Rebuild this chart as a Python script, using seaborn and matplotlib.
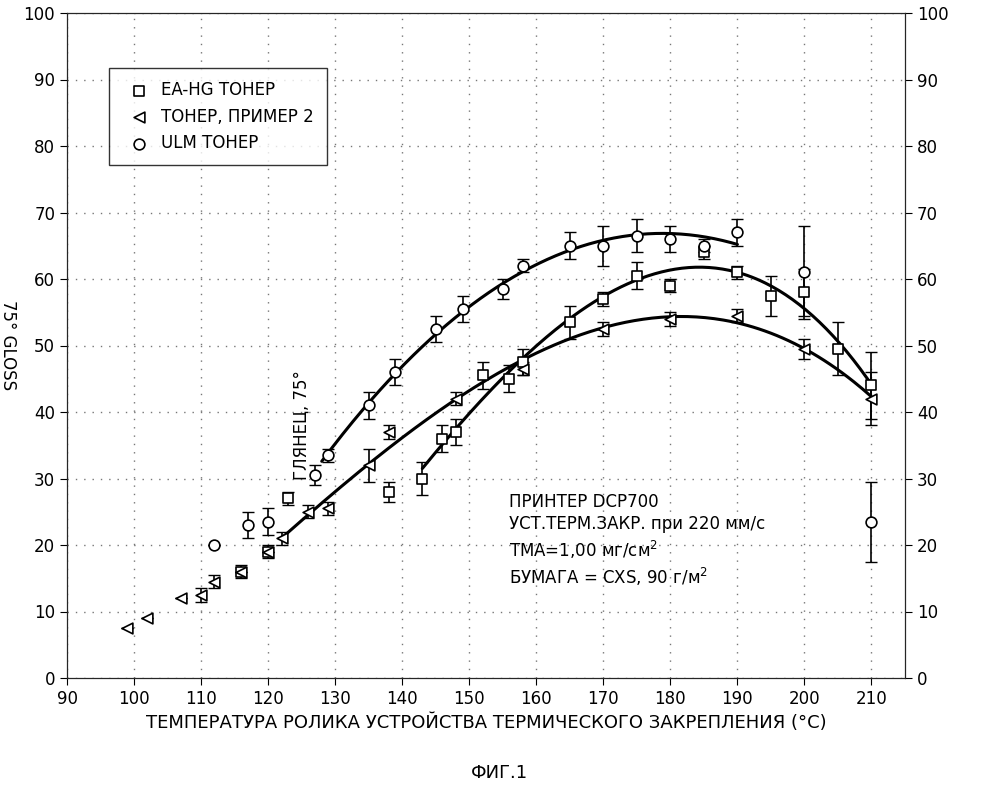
import numpy as np
import pandas as pd
import seaborn as sns
import matplotlib.pyplot as plt

# EA-HG toner (squares)
sq_x = [116, 120, 123, 138, 143, 146, 148, 152, 156, 158, 165, 170, 175, 180, 185, 190, 195, 200, 205, 210]
sq_y = [16, 19, 27, 28, 30, 36, 37, 45.5, 45, 47.5, 53.5, 57, 60.5, 59, 64, 61, 57.5, 58, 49.5, 44]
sq_e = [0, 0, 1, 1.5, 2.5, 2, 2, 2, 2, 2, 2.5, 1, 2, 1, 1, 1, 3, 3.5, 4, 5]
# example 2 toner (triangles)
tr_x = [99, 102, 107, 110, 112, 116, 120, 122, 126, 129, 135, 138, 148, 158, 170, 180, 190, 200, 210]
tr_y = [7.5, 9, 12, 12.5, 14.5, 16, 19, 21, 25, 25.5, 32, 37, 42, 46.5, 52.5, 54, 54.5, 49.5, 42]
tr_e = [0, 0, 0, 1, 1, 1, 1, 1, 1, 1, 2.5, 1, 1, 1, 1, 1, 1, 1.5, 4]
# ULM toner (circles)
ci_x = [112, 117, 120, 127, 129, 135, 139, 145, 149, 155, 158, 165, 170, 175, 180, 185, 190, 200, 210]
ci_y = [20, 23, 23.5, 30.5, 33.5, 41, 46, 52.5, 55.5, 58.5, 62, 65, 65, 66.5, 66, 65, 67, 61, 23.5]
ci_e = [0, 2, 2, 1.5, 1, 2, 2, 2, 2, 1.5, 1, 2, 3, 2.5, 2, 1, 2, 7, 6]

sns.set_style("white", {"text.color": "black", "axes.labelcolor": "black",
                        "xtick.color": "black", "ytick.color": "black"})
fig = plt.figure(figsize=(9.99, 7.98), dpi=100)
ax = fig.add_axes([67/999, 1-678/798, (905-67)/999, (678-13)/798])

series = [
    ("EA-HG ТОНЕР", sq_x, sq_y, sq_e, "s", (143, 210), 3),
    ("ТОНЕР, ПРИМЕР 2", tr_x, tr_y, tr_e, "<", (122, 210), 3),
    ("ULM ТОНЕР", ci_x, ci_y, ci_e, "o", (128, 190), 2),
]
for name, xs, ys, es, m, (lo, hi), deg in series:
    df = pd.DataFrame({"x": xs, "y": ys, "e": es})
    ax.errorbar(df.x, df.y, yerr=df.e, fmt="none", ecolor="black", elinewidth=1.2, capsize=4)
    sns.scatterplot(data=df, x="x", y="y", marker=m, s=60, facecolor="white",
                    edgecolor="black", linewidth=1.2, ax=ax, label=name, zorder=3)
    fit = df[(df.x >= lo) & (df.x <= hi)]
    c = np.polyfit(fit.x, fit.y, deg)
    xx = np.linspace(lo, hi, 200)
    ax.plot(xx, np.polyval(c, xx), color="black", lw=2.2, zorder=2)

ax.set_xlim(90, 215)
ax.set_ylim(0, 100)
ax.set_xticks(range(90, 211, 10))
ax.set_yticks(range(0, 101, 10))
ax.grid(True, linestyle=(0, (1, 5)), color="#777777", lw=1)
ax.tick_params(labelsize=12, direction="out", length=5, left=True, bottom=True)
for s in ax.spines.values():
    s.set_color("black")
ax.set_xlabel("ТЕМПЕРАТУРА РОЛИКА УСТРОЙСТВА ТЕРМИЧЕСКОГО ЗАКРЕПЛЕНИЯ (°C)", fontsize=13)
ax.set_ylabel("75° GLOSS", fontsize=12, rotation=-90, labelpad=18)
ax2 = ax.twinx()
ax2.set_ylim(0, 100)
ax2.set_yticks(range(0, 101, 10))
ax2.tick_params(labelsize=12, direction="out", length=5, right=True)

ax.legend(loc="upper left", bbox_to_anchor=(0.04, 0.93), frameon=True, edgecolor="black",
          fancybox=False, fontsize=12, handletextpad=0.3, borderpad=0.8)
ax.text(125, 38, "ГЛЯНЕЦ, 75°", rotation=90, fontsize=12, ha="center", va="center")
ax.text(156, 13.5, "ПРИНТЕР DCP700\nУСТ.ТЕРМ.ЗАКР. при 220 мм/с\nТМА=1,00 мг/см$^2$\nБУМАГА = CXS, 90 г/м$^2$",
        fontsize=12, va="bottom", linespacing=1.3)
fig.text(0.5, 0.025, "ФИГ.1", ha="center", fontsize=13)
fig.savefig("out.png", dpi=100)
